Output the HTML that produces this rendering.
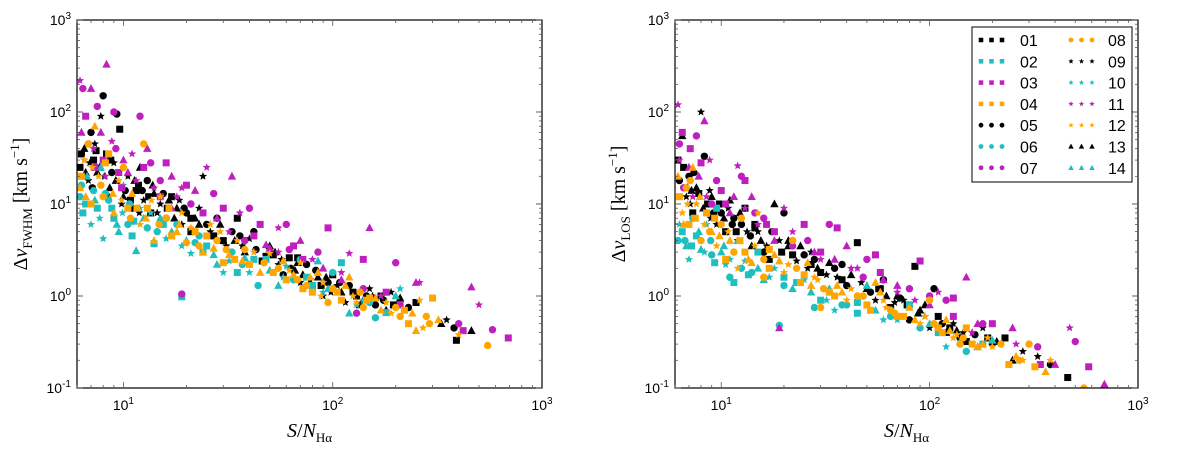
<!DOCTYPE html>
<html><head><meta charset="utf-8">
<style>
html,body{margin:0;padding:0;background:#fff;}
svg{display:block;font-family:"Liberation Sans",sans-serif;}
</style></head>
<body>
<svg id="chart" width="1200" height="451" viewBox="0 0 1200 451" xmlns="http://www.w3.org/2000/svg"></svg>
<script>
// ---- data (S/N, delta v) ----
const seriesColors = ["#000000","#1fbfbf","#bf1fbf","#ffa500"];
const seriesNames = ["black","cyan","magenta","orange"];
const xTickValues = [1,2,3];
const yTickValues = [-1,0,1,2,3];
const legendLabels = ["01","02","03","04","05","06","07","08","09","10","11","12","13","14"];
const leftBlack = "6.2,25 6.5,40 6.8,18 7,60 7.2,30 7.5,22 7.8,90 8,150 8.3,35 8.6,15 9,28 9.3,95 9.6,65 10,12 10.5,20 11,9 11.5,14 12,25 12.5,11 13,18 13.5,8 14,13 15,10 16,7 17,12 18,9 19,6 20,8 21,5 22,7 24,20 25,6 27,4.5 29,6 31,3.5 33,5 35,7 38,3 40,4.2 43,3.2 46,2.4 50,3.5 55,2.2 58,1.7 62,2.6 66,1.9 70,1.4 75,2.2 80,1.2 85,1.6 90,1.0 95,1.4 100,1.7 110,1.1 115,0.85 120,1.3 130,1.0 140,0.9 150,1.2 160,0.8 170,1.0 180,0.7 190,1.1 230,0.75 250,0.85 330,0.5 350,0.55 380,0.45 390,0.33 460,0.42 7.3,45 8.8,22 11.8,16 16.5,11 23,9 36,4.5 52,2.8 68,2.3 105,1.3 145,1.0 "
 + "6.3,35 6.6,22 6.9,28 7.1,15 7.4,38 7.7,25 8.1,20 8.4,12 8.7,30 9.2,18 9.8,10 10.2,14 10.8,11 11.3,18 11.9,8 12.3,14 13.2,12 13.8,16 14.5,8 15.5,13 16.2,9 17.5,7 18.5,11 19.5,9 21,7 23,6 26,5 28,7 30,4 34,4 37,3.5 42,5 48,2.7 53,3 57,2.5 63,2 68,2.6 72,1.7 78,1.5 83,1.9 88,1.3 93,1.6 98,1.1 108,1.4 125,1.1 135,0.8 155,1.0 175,0.9 195,0.8 210,0.95";
const leftCyan = "6.2,12 6.4,8 6.7,20 7,6 7.2,14 7.5,9 7.8,25 8,4.2 8.5,11 9,7 9.5,5 10,16 10.5,6 11,4.5 11.5,3.1 12,9 13,5.5 14,3.7 15,7 16,4.2 18,6 19,0.98 20,4 21,2.9 23,4.5 25,3.5 28,2.2 30,1.8 33,3 35,1.8 38,2.6 40,1.8 44,1.3 48,2.5 55,1.3 60,2.1 70,2.5 75,1.6 85,2.4 90,1.1 100,1.8 110,2.3 120,0.65 140,0.9 160,0.58 180,0.66 200,1.0 210,1.2 "
 + "6.3,16 6.6,10 7.3,11 7.7,7 8.2,13 8.8,9 9.3,6 9.9,8 10.7,10 11.2,6.5 12.5,7 13.5,8 14.5,5 15.5,6 17,5 19,3.5 22,3.8 24,3 27,2.8 32,2.4 37,2.2 42,2.5 50,1.9 58,1.6 65,1.5 80,1.3 95,1.2 130,0.8 150,0.85";
const leftMagenta = "6.2,220 6.4,180 6.6,90 7,180 7.2,40 7.5,115 8,30 8.3,330 8.8,48 9,100 9.5,22 10,30 11,35 12,90 12.5,25 13,40 14,15 15,18 16,28 17,20 18,12 19,1.05 20,16 22,14 25,25 27,13 30,9 33,20 36,8 40,9 45,6 50,3.3 55,5.5 60,6 65,3.5 70,4 80,2.5 85,3 95,5.5 110,1.5 120,2.9 130,0.65 140,2.5 150,5.5 170,1.0 200,2.3 210,0.8 250,1.4 260,1.4 400,0.5 420,0.42 460,1.25 500,0.8 580,0.43 690,0.35 "
 + "6.3,60 6.5,30 6.8,45 7.3,25 7.8,60 8.2,20 9.2,40 9.8,15 10.5,22 11.5,18 13.5,28 15,12 17,9 19,15 21,10 24,8 28,7 32,5 38,4 42,4.5 48,3.6 55,3 62,3.2 72,2.5 90,2 110,1.8 140,1.2 180,1.1";
const leftOrange = "6.2,15 6.5,30 6.8,45 7,10 7.3,70 7.6,20 8,12 8.5,35 9,8 9.5,18 10,25 10.5,9 11,13 12,6 12.5,45 13,9 14,4 15,12 16,7 17,4.5 18,5 19,8 20,3.8 22,5 24,3 26,6 28,4 30,2.3 32,2.8 35,4 38,3.2 40,2.2 45,1.8 50,2.9 55,2.0 60,1.5 65,1.7 70,2.3 75,1.3 80,1.1 85,1.8 90,1.4 100,1.2 110,0.9 120,1.6 130,0.85 140,0.75 150,0.95 170,0.7 190,0.65 210,0.6 230,0.5 250,0.42 260,0.9 280,0.6 300,0.95 320,0.55 400,0.38 550,0.29 "
 + "6.3,20 6.6,12 7.1,25 7.8,16 8.2,28 8.9,13 9.8,11 10.8,7 11.6,9 12.8,7 13.6,11 14.8,6 16.5,9 18.5,6 21,5.5 23,3.5 25,4.5 27,3.3 29,5 31,3.2 34,2.5 37,2.4 42,3 47,2.3 52,1.8 58,2.4 62,1.9 68,1.5 72,1.2 78,1.6 88,1.0 95,0.85 105,1.1 115,1.3 125,1.0 135,1.1 145,0.9 160,0.95 180,0.85 200,0.75 220,0.7 240,0.65 270,0.45 290,0.5";
const rightBlack = "6.2,30 6.5,55 6.8,12 7,20 7.3,8 7.6,15 8,100 8.3,33 8.6,10 9,12 9.5,6 10,8 10.5,5 11,11 12,4 12.5,6 13,9 14,3.5 15,5 16,3 17,2.5 18,10 19,4 20,8 22,2.8 24,3.5 26,2 28,2.5 30,1.8 33,2.3 36,1.6 40,1.3 45,3.8 50,1.2 55,0.9 60,1.5 65,0.75 70,1.0 75,0.9 80,0.55 85,2.1 90,0.7 100,0.45 105,1.2 110,0.6 120,0.4 130,0.5 140,0.35 150,0.32 170,0.28 180,0.45 200,0.3 230,0.35 250,0.2 330,0.22 380,0.18 460,0.13 7.2,14 8.9,7 11.5,7 14.5,5.5 21,4 27,3 38,2.2 58,1.2 95,0.8 160,0.4 "
 + "6.3,18 6.6,25 6.9,15 7.1,10 7.4,22 7.8,13 8.2,9 8.8,14 9.2,8 9.8,10 10.3,7 10.8,9 11.3,6 11.8,5 12.3,8 13.3,5 13.8,4.5 14.5,6 15.5,4 16.5,3.5 17.5,5 19.5,3 21,3.5 23,2.4 25,2.8 27,2.2 29,2 32,1.7 35,2 38,1.5 42,1.7 47,1.4 52,1.1 57,1.2 62,1.0 68,0.85 72,0.95 78,0.8 88,0.65 95,0.6 115,0.5 125,0.45 135,0.42 145,0.4 165,0.38 190,0.35 210,0.32 280,0.25";
const rightCyan = "6.2,4 6.5,5 6.8,3.5 7,2.5 7.3,7 7.6,4.5 8,3.2 8.5,6 9,2.8 9.5,9 10,3 10.5,2.2 11,1.6 11.5,1.4 12,4 13,2.4 14,1.8 15,3 16,1.5 18,2 19,0.48 20,1.6 22,1.2 25,1.5 28,0.75 30,0.9 33,1.2 35,0.7 40,0.8 45,0.65 50,1.3 60,0.55 65,0.6 80,0.8 100,0.5 120,0.28 150,0.25 180,0.3 200,0.33 "
 + "6.3,6 6.7,4 7.2,3.5 7.8,5 8.3,3 8.9,4 9.3,2.3 10.3,3.5 11,2.5 12.5,2 13.5,1.7 15,2 17,1.6 20,1.3 23,1.4 27,1.1 32,0.9 38,0.8 45,0.85 55,0.7 70,0.55 90,0.45 110,0.4 140,0.32";
const rightMagenta = "6.2,120 6.3,45 6.5,60 7,25 7.3,12 7.6,55 8,28 8.3,80 8.8,30 9,10 10,14 11,8 12,26 12.5,20 13,18 14,12 15,6 16,7 18,5 19,0.45 20,9 22,3.5 25,6 28,3 30,2.5 33,6 36,5.5 40,3.5 45,2 50,2.5 55,2.8 60,1.5 70,1.1 80,1.2 90,2.4 100,0.8 110,1.1 120,0.9 130,0.95 150,1.6 160,0.4 180,0.5 200,0.5 250,0.45 260,0.3 330,0.28 340,0.18 400,0.18 470,0.45 500,0.32 580,0.17 690,0.11 "
 + "6.3,30 6.6,15 7.1,40 7.8,20 8.5,12 9.5,18 10.5,10 11.5,12 13,9 14.5,8 16.5,6 18,4 22,5 26,4 30,3 35,2.5 42,2 48,1.6 58,1.8 70,1.3 85,0.9 100,1.0 130,0.6 170,0.5";
const rightOrange = "6.2,20 6.5,8 6.8,15 7,6 7.3,25 7.6,10 8,4 8.5,8 9,5 9.5,3.5 10,6 10.5,2.5 11,4 12,2 12.5,7 13,3 14,2.3 15,8 16,1.6 17,3.2 18,2.8 20,1.8 22,4 24,1.4 26,2.3 28,1.6 30,0.75 33,1.1 36,1.3 40,0.9 45,1.0 50,0.8 55,1.4 60,0.9 65,0.7 70,0.6 80,0.75 90,0.5 100,0.9 110,0.45 120,0.55 130,0.35 140,0.3 150,0.45 170,0.28 190,0.35 220,0.3 240,0.18 260,0.22 280,0.2 300,0.3 320,0.17 360,0.15 380,0.2 550,0.1 "
 + "6.3,12 6.6,6 6.9,10 7.1,18 7.5,7 7.9,12 8.3,6 8.8,5 9.3,7 9.8,4.5 10.8,5 11.5,3 12.3,4 13.5,2.5 14.5,3.5 16,2.5 17,2 19,2.4 21,2.2 23,2 25,1.7 27,1.3 29,1.5 31,1.2 35,1.0 38,1.1 42,1.2 48,1.0 52,0.7 58,1.1 62,0.75 68,0.65 75,0.6 85,0.55 95,0.6 105,0.5 115,0.4 125,0.42 135,0.38 145,0.35 160,0.3 180,0.3 200,0.28 270,0.2";

const NS="http://www.w3.org/2000/svg";
const svg=document.getElementById('chart');
function el(tag,attrs,parent){const e=document.createElementNS(NS,tag);for(const k in attrs)e.setAttribute(k,attrs[k]);(parent||svg).appendChild(e);return e;}
function parse(s){return s.trim().split(/\s+/).map(p=>p.split(',').map(Number));}

const panels=[
 {name:'left',L:77,R:542,T:20,B:388,ylab:'FWHM',data:[leftBlack,leftCyan,leftMagenta,leftOrange]},
 {name:'right',L:675,R:1138,T:20,B:388,ylab:'LOS',data:[rightBlack,rightCyan,rightMagenta,rightOrange]}
];
const xminLog=Math.log10(6.0), xmaxLog=3, yminLog=-1, ymaxLog=3;

function marker(g,shape,x,y,c){
  let m;
  if(shape===0){m=el('rect',{x:x-3.5,y:y-3.5,width:7,height:7,fill:c},g);}
  else if(shape===1){m=el('circle',{cx:x,cy:y,r:3.7,fill:c},g);}
  else if(shape===2){let pts=[];for(let i=0;i<10;i++){const r=i%2?1.9:4.3;const a=-Math.PI/2+i*Math.PI/5;pts.push((x+r*Math.cos(a)).toFixed(1)+','+(y+r*Math.sin(a)).toFixed(1));}m=el('polygon',{points:pts.join(' '),fill:c},g);}
  else {m=el('polygon',{points:`${x},${y-4.5} ${x+4.2},${y+3.3} ${x-4.2},${y+3.3}`,fill:c},g);}
  return m;
}

panels.forEach(p=>{
  const sx=v=>p.L+(Math.log10(v)-xminLog)/(xmaxLog-xminLog)*(p.R-p.L);
  const sy=v=>p.B-(Math.log10(v)-yminLog)/(ymaxLog-yminLog)*(p.B-p.T);
  const g=el('g',{});
  
  
  const clip=el('clipPath',{id:'clip-'+p.name},g);
  el('rect',{x:p.L,y:p.T,width:p.R-p.L,height:p.B-p.T},clip);
  const pts=el('g',{'clip-path':'url(#clip-'+p.name+')'},g);
  
  
  p.data.forEach((s,si)=>{
    parse(s).forEach((d,i)=>{
      const m=marker(pts,(i*7+si)%4,sx(d[0]),sy(d[1]),seriesColors[si]);
      
      
    });
  });
  const fr=el('rect',{x:p.L,y:p.T,width:p.R-p.L,height:p.B-p.T,fill:'none',stroke:'#000','stroke-width':1.2},g);
  
  
  for(let d=0;d<3;d++){for(let k=1;k<10;k++){const v=k*Math.pow(10,d);if(Math.log10(v)<xminLog-1e-9||Math.log10(v)>3)continue;const x=sx(v);const len=k===1?6:3;
    el('line',{x1:x,y1:p.B,x2:x,y2:p.B-len,stroke:'#555','stroke-width':0.8},g);
    el('line',{x1:x,y1:p.T,x2:x,y2:p.T+len,stroke:'#555','stroke-width':0.8},g);}}
  xTickValues.forEach(e=>{const t=el('text',{x:sx(Math.pow(10,e)),y:p.B+22,'text-anchor':'middle','font-size':14,fill:'#000'},g);
    
    t.innerHTML='10<tspan dy="-6" font-size="10">'+e+'</tspan>';});
  for(let d=-1;d<3;d++){for(let k=1;k<=10;k++){const v=k*Math.pow(10,d);const y=sy(v);const len=(k===1||k===10)?6:3;
    el('line',{x1:p.L,y1:y,x2:p.L+len,y2:y,stroke:'#555','stroke-width':0.8},g);
    el('line',{x1:p.R,y1:y,x2:p.R-len,y2:y,stroke:'#555','stroke-width':0.8},g);}}
  yTickValues.forEach(e=>{const t=el('text',{x:p.L-6,y:sy(Math.pow(10,e))+5,'text-anchor':'end','font-size':14,fill:'#000'},g);
    
    t.innerHTML='10<tspan dy="-6" font-size="10">'+e+'</tspan>';});
  const xt=el('text',{x:(p.L+p.R)/2,y:437,'text-anchor':'middle','font-size':20,'font-family':'"Liberation Serif",serif',fill:'#000'},g);
  
  xt.innerHTML='<tspan font-style="italic">S</tspan>/<tspan font-style="italic">N</tspan><tspan dy="5" font-size="13">Hα</tspan>';
  const yt=el('text',{x:0,y:0,'text-anchor':'middle','font-size':20,'font-family':'"Liberation Serif",serif',fill:'#000',transform:`translate(${p.L-50},${(p.T+p.B)/2}) rotate(-90)`},g);
  
  yt.innerHTML='Δ<tspan font-style="italic">v</tspan><tspan dy="5" font-size="13">'+p.ylab+'</tspan><tspan dy="-5"> [km s</tspan><tspan dy="-8" font-size="13">−1</tspan><tspan dy="8">]</tspan>';
});

const lg=el('g',{});


el('rect',{x:972,y:27,width:160,height:155,fill:'#fff',stroke:'#000','stroke-width':1},lg);
legendLabels.forEach((lab,i)=>{
  const col=i<7?0:1, row=i%7;
  const y=40+row*21.3;
  const mx=col?1071:981, tx=col?1108:1020;
  const color=seriesColors[[0,1,2,3,0,1,2,3,0,1,2,3,0,1][i]];
  const shape=i<4?0:(i<8?1:(i<12?2:3));
  const e=el('g',{},lg);
  
  
  for(let j=0;j<3;j++){const m=marker(e,shape,mx+j*10.5,y,color);m.setAttribute('transform',`translate(${mx+j*10.5},${y}) scale(0.65) translate(${-(mx+j*10.5)},${-y})`);}
  const t=el('text',{x:tx,y:y+6,'font-size':16,fill:'#000'},e);
  t.textContent=lab;
});
</script>
</body></html>
